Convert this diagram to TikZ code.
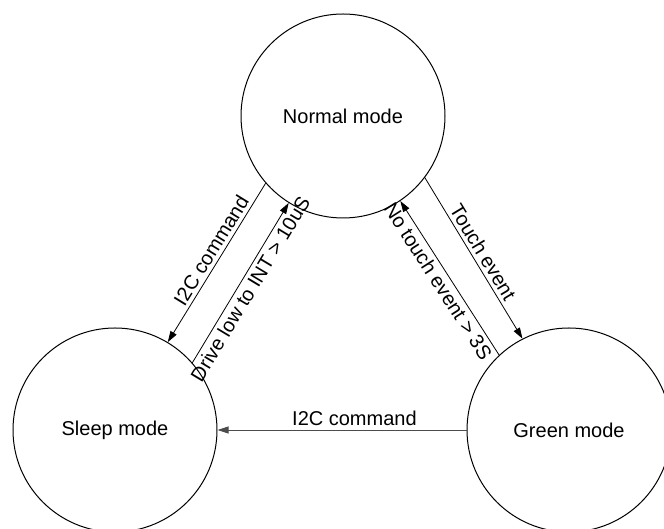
\documentclass[tikz,border=0pt]{standalone}
\usepackage{fontspec}
\setmainfont{Liberation Sans}
\usetikzlibrary{arrows.meta}

\begin{document}
\begin{tikzpicture}[
    x=1pt, y=1pt,
    state/.style={
        circle,
        draw=black,
        line width=1pt,
        minimum size=204pt,
        inner sep=0pt,
        font=\fontsize{20}{24}\selectfont
    },
    trans/.style={
        -{Triangle[length=11pt,width=7pt]},
        line width=0.8pt
    },
    lbl/.style={
        sloped,
        inner sep=3.5pt,
        font=\fontsize{20}{24}\selectfont
    }
    ]
    \useasboundingbox (0,0) rectangle (664,529);
    \clip (0,0) rectangle (664,529);

    \node[state] (normal) at (343,413) {Normal mode};
    \node[state] (sleep) at (115,99) {Sleep mode};
    \node[state] (green) at (569,99) {Green mode};

    \draw[trans] (normal.221.5) -- node[lbl, above, pos=0.46] {I2C command} (sleep.59.6);
    \draw[trans] (sleep.41.7) -- node[lbl, below, pos=0.5] {Drive low to INT > 10uS} (normal.238.4);
    \draw[trans] (normal.323.4) -- node[lbl, above, pos=0.5] {Touch event} (green.117.4);
    \draw[trans] (green.133.9) -- node[lbl, below, pos=0.52] {No touch event > 3S} (normal.304.8);
    \draw[trans, draw=black!70] (green.180) -- node[lbl, above, pos=0.45] {I2C command} (sleep.0);
\end{tikzpicture}
\end{document}
